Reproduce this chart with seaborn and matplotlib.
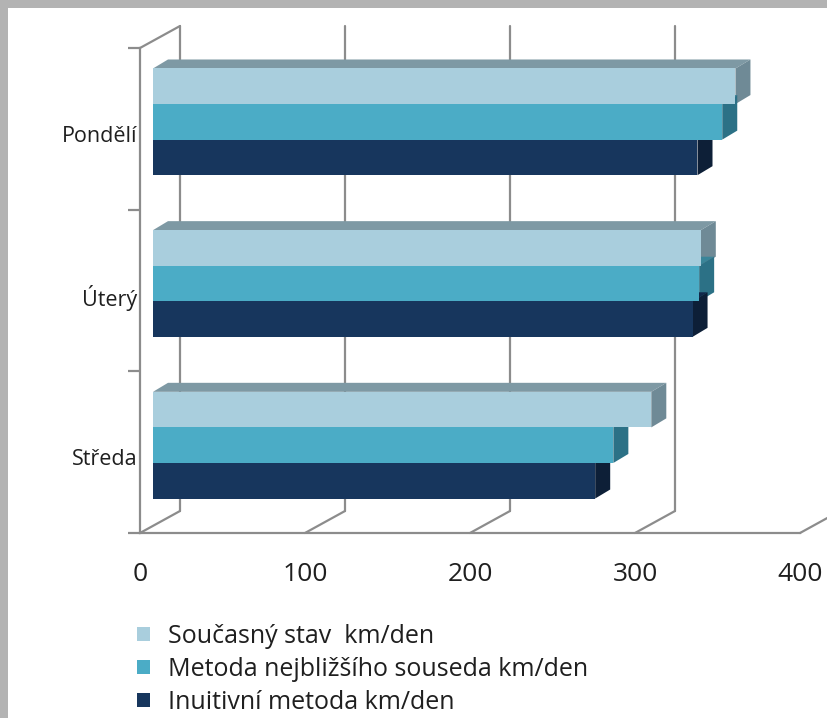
import matplotlib
matplotlib.use("Agg")
import matplotlib.pyplot as plt
from matplotlib.patches import Polygon, Rectangle
from matplotlib.transforms import ScaledTranslation
from matplotlib.lines import Line2D
import seaborn as sns
import pandas as pd

# ---- data ----
days = ["Pondělí", "Úterý", "Středa"]
series = ["Současný stav  km/den", "Metoda nejbližšího souseda km/den", "Inuitivní metoda km/den"]
soucasny = [353, 332, 302]
metoda = [345, 331, 279]
inuitivni = [330, 327, 268]
xticks = [0, 100, 200, 300, 400]

front_colors = ["#A9CEDD", "#4BACC6", "#17365D"]
top_colors = ["#7E99A4", "#3A8599", "#11284A"]
side_colors = ["#6F8A96", "#2C7186", "#0D1F37"]
grid_col = "#8C8C8C"
text_col = "#1f1f1f"

sns.set_theme(style="white")
plt.rcParams["font.family"] = ["Open Sans", "DejaVu Sans"]

W, H, DPI = 828, 718, 100
fig = plt.figure(figsize=(W / DPI, H / DPI), dpi=DPI)
fig.patch.set_facecolor("#B3B3B3")
fig.add_artist(Rectangle((8 / W, 0), (W - 8) / W, (H - 8) / H,
                         transform=fig.transFigure, facecolor="white",
                         edgecolor="none", zorder=0))

ax_l, ax_r, ax_t, ax_b = 140, 800, 48, 533
ax = fig.add_axes([ax_l / W, 1 - ax_b / H, (ax_r - ax_l) / W, (ax_b - ax_t) / H])
ax.patch.set_alpha(0)

df = pd.DataFrame({
    "den": days * 3,
    "km": soucasny + metoda + inuitivni,
    "serie": [series[0]] * 3 + [series[1]] * 3 + [series[2]] * 3,
})
sns.barplot(data=df, y="den", x="km", hue="serie", order=days, hue_order=series,
            orient="h", palette=front_colors, saturation=1, width=0.66,
            edgecolor="none", linewidth=0, ax=ax, zorder=3)
if ax.get_legend() is not None:
    ax.get_legend().remove()

ax.set_xlim(0, 400)
ax.set_ylim(2.5, -0.5)

pxx = (ax_r - ax_l) / 400.0
pxy = (ax_b - ax_t) / 3.0

# depth offsets
bar_shift = ScaledTranslation(13 / DPI, 7 / DPI, fig.dpi_scale_trans)
bar_tr = ax.transData + bar_shift
fdx, fdy = 15 / pxx, 9 / pxy      # face depth in data units
gdx, gdy = 40 / pxx, 22 / pxy     # wall depth in data units

for i, cont in enumerate(ax.containers):
    for bar in cont:
        bar.set_transform(bar_tr)
        bar.set_clip_on(False)
        x0, y0 = bar.get_x(), bar.get_y()
        x1, y1 = x0 + bar.get_width(), y0 + bar.get_height()
        top = Polygon([(x0, y0), (x1, y0), (x1 + fdx, y0 - fdy), (x0 + fdx, y0 - fdy)],
                      closed=True, facecolor=top_colors[i], edgecolor="none",
                      transform=bar_tr, zorder=2, clip_on=False)
        side = Polygon([(x1, y0), (x1, y1), (x1 + fdx, y1 - fdy), (x1 + fdx, y0 - fdy)],
                       closed=True, facecolor=side_colors[i], edgecolor="none",
                       transform=bar_tr, zorder=2, clip_on=False)
        ax.add_patch(top)
        ax.add_patch(side)

# back wall gridlines and floor diagonals
for t in xticks:
    ax.add_line(Line2D([t + gdx, t + gdx], [-0.5 - gdy, 2.5 - gdy], color=grid_col,
                       lw=1.6, zorder=1, clip_on=False))
    ax.add_line(Line2D([t, t + gdx], [2.5, 2.5 - gdy], color=grid_col,
                       lw=1.6, zorder=1, clip_on=False))
ax.add_line(Line2D([0, gdx], [-0.5, -0.5 - gdy], color=grid_col, lw=1.6,
                   zorder=1, clip_on=False))

# axes styling
for s in ["top", "right"]:
    ax.spines[s].set_visible(False)
for s in ["left", "bottom"]:
    ax.spines[s].set_color(grid_col)
    ax.spines[s].set_linewidth(1.6)

ax.set_xticks(xticks)
ax.set_xticklabels([str(t) for t in xticks])
ax.tick_params(axis="x", which="major", direction="out", length=8, width=1.6,
               color=grid_col, pad=13, labelsize=19, labelcolor=text_col)
ax.set_yticks([0, 1, 2])
ax.set_yticklabels(days)
ax.set_yticks([-0.5, 0.5, 1.5, 2.5], minor=True)
ax.tick_params(axis="y", which="major", length=0, pad=2, labelsize=15.5,
               labelcolor=text_col)
ax.tick_params(axis="y", which="minor", direction="out", length=9, width=1.6,
               color=grid_col, left=True)
for lab in ax.get_yticklabels():
    lab.set_transform(lab.get_transform() + ScaledTranslation(0, -5 / DPI, fig.dpi_scale_trans))
ax.set_xlabel("")
ax.set_ylabel("")

handles = [Rectangle((0, 0), 1, 1, facecolor=c, edgecolor="none") for c in front_colors]
fig.legend(handles, series, loc="upper left", bbox_to_anchor=(137 / W, 1 - 624 / H),
           frameon=False, fontsize=18, handlelength=0.5, handleheight=0.5,
           handletextpad=0.75, labelspacing=0.32, borderaxespad=0, borderpad=0,
           labelcolor=text_col)

fig.savefig("out.png", dpi=DPI, facecolor=fig.get_facecolor())
